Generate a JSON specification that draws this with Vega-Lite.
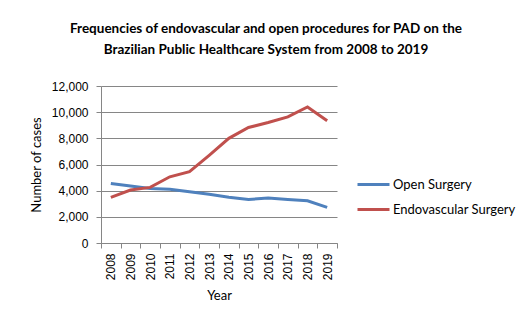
{
  "$schema": "https://vega.github.io/schema/vega-lite/v6.json",
  "width": 236,
  "height": 157,
  "autosize": {"type": "none"},
  "padding": {"left": 101, "top": 86, "right": 188, "bottom": 79},
  "background": "white",
  "title": {
    "text": ["Frequencies of endovascular and open procedures for PAD on the", "Brazilian Public Healthcare System from 2008 to 2019"],
    "font": "Lato",
    "fontSize": 13.5,
    "fontWeight": "bold",
    "color": "#000000",
    "anchor": "middle",
    "frame": "group",
    "dx": 47,
    "offset": 24,
    "lineHeight": 20.5
  },
  "config": {
    "view": {"stroke": null},
    "font": "Lato"
  },
  "data": {
    "values": [
      {"year": "2008", "series": "Open Surgery", "cases": 4550},
      {"year": "2009", "series": "Open Surgery", "cases": 4350},
      {"year": "2010", "series": "Open Surgery", "cases": 4170},
      {"year": "2011", "series": "Open Surgery", "cases": 4100},
      {"year": "2012", "series": "Open Surgery", "cases": 3920},
      {"year": "2013", "series": "Open Surgery", "cases": 3720},
      {"year": "2014", "series": "Open Surgery", "cases": 3490},
      {"year": "2015", "series": "Open Surgery", "cases": 3330},
      {"year": "2016", "series": "Open Surgery", "cases": 3440},
      {"year": "2017", "series": "Open Surgery", "cases": 3330},
      {"year": "2018", "series": "Open Surgery", "cases": 3230},
      {"year": "2019", "series": "Open Surgery", "cases": 2720},
      {"year": "2008", "series": "Endovascular Surgery", "cases": 3490},
      {"year": "2009", "series": "Endovascular Surgery", "cases": 4050},
      {"year": "2010", "series": "Endovascular Surgery", "cases": 4250},
      {"year": "2011", "series": "Endovascular Surgery", "cases": 5060},
      {"year": "2012", "series": "Endovascular Surgery", "cases": 5450},
      {"year": "2013", "series": "Endovascular Surgery", "cases": 6700},
      {"year": "2014", "series": "Endovascular Surgery", "cases": 8000},
      {"year": "2015", "series": "Endovascular Surgery", "cases": 8830},
      {"year": "2016", "series": "Endovascular Surgery", "cases": 9210},
      {"year": "2017", "series": "Endovascular Surgery", "cases": 9640},
      {"year": "2018", "series": "Endovascular Surgery", "cases": 10400},
      {"year": "2019", "series": "Endovascular Surgery", "cases": 9340}
    ]
  },
  "mark": {"type": "line", "strokeWidth": 3},
  "encoding": {
    "x": {
      "field": "year",
      "type": "ordinal",
      "scale": {"type": "band", "paddingInner": 0, "paddingOuter": 0},
      "axis": {
        "title": "Year",
        "titleFont": "Lato",
        "titleFontSize": 13,
        "titleFontWeight": "normal",
        "titleColor": "#000000",
        "titlePadding": 10,
        "labelAngle": -90,
        "labelFont": "Liberation Sans",
        "labelFontSize": 12,
        "labelColor": "#000000",
        "labelPadding": 5,
        "tickBand": "extent",
        "tickSize": 5,
        "tickColor": "#868686",
        "domainColor": "#868686",
        "grid": false
      }
    },
    "y": {
      "field": "cases",
      "type": "quantitative",
      "scale": {"domain": [0, 12000], "nice": false},
      "axis": {
        "title": "Number of cases",
        "titleFont": "Lato",
        "titleFontSize": 13,
        "titleFontWeight": "normal",
        "titleColor": "#000000",
        "titlePadding": 8,
        "values": [0, 2000, 4000, 6000, 8000, 10000, 12000],
        "format": ",.0f",
        "labelFont": "Liberation Sans",
        "labelFontSize": 12,
        "labelColor": "#000000",
        "labelPadding": 8,
        "tickSize": 5,
        "tickColor": "#868686",
        "domainColor": "#868686",
        "gridColor": "#868686",
        "gridWidth": 1
      }
    },
    "color": {
      "field": "series",
      "type": "nominal",
      "scale": {"domain": ["Open Surgery", "Endovascular Surgery"], "range": ["#4F81BD", "#C0504D"]},
      "legend": {
        "title": null,
        "orient": "none",
        "legendX": 255,
        "legendY": 81,
        "symbolType": "stroke",
        "symbolSize": 1024,
        "symbolStrokeWidth": 3,
        "labelFont": "Lato",
        "labelFontSize": 13,
        "labelColor": "#000000",
        "labelOffset": 2,
        "rowPadding": -5
      }
    }
  }
}
